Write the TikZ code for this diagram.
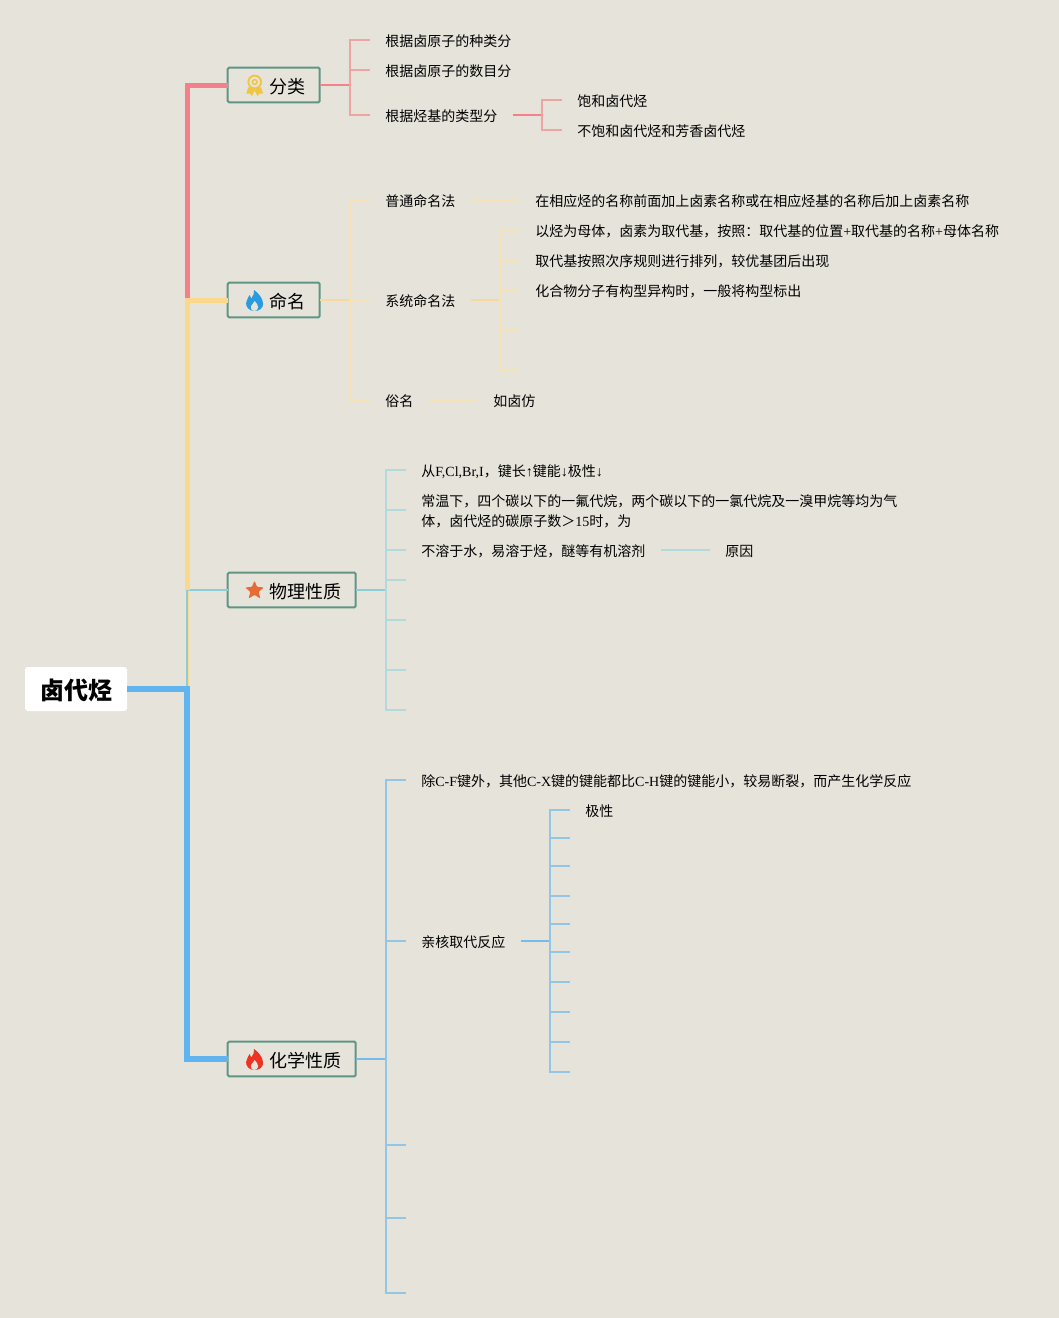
\documentclass[tikz,border=0pt]{standalone}
\usepackage{fontspec}
\setmainfont{Noto Sans CJK SC}
\newfontfamily\latn{Liberation Serif}
\newcommand{\lat}[1]{{\latn #1}}
\usetikzlibrary{shapes.geometric}
\definecolor{bgc}{HTML}{E6E3DB}
\definecolor{boxc}{HTML}{5F9585}
\definecolor{redc}{HTML}{F4808A}
\definecolor{redl}{HTML}{EFA3A3}
\definecolor{yelc}{HTML}{FBD88A}
\definecolor{yell}{HTML}{F6E2B6}
\definecolor{cyac}{HTML}{8CCDD8}
\definecolor{cyal}{HTML}{B2D9DD}
\definecolor{bluc}{HTML}{60B5F1}
\definecolor{blul}{HTML}{93C5E4}
\definecolor{medalc}{HTML}{F2C443}
\definecolor{flameb}{HTML}{2B9BE0}
\definecolor{flamer}{HTML}{EE3322}
\definecolor{starc}{HTML}{E66B35}
\tikzset{
  rootbox/.style={draw=none,fill=white,rounded corners=2pt,minimum width=76.5pt,minimum height=33pt,inner sep=0pt,text height=17pt,text depth=0.8pt,font=\fontsize{18}{18}\selectfont\bfseries},
  topicbox/.style={draw=boxc,line width=1.5pt,rounded corners=1pt,fill=bgc,minimum height=26pt,inner sep=0pt,outer sep=0pt,anchor=west},
  topictext/.style={anchor=west,inner sep=0pt,font=\fontsize{13.5}{13.5}\selectfont},
  leaf/.style={anchor=west,inner sep=0pt,text height=10.4pt,text depth=1.1pt,font=\fontsize{10.5}{15}\selectfont},
  gap/.style={shorten >=11.25pt},
  thinline/.style={line width=1pt},
  iconflame/.pic={
    \fill[pic actions] (0,10.5) .. controls (-6,10.5) and (-8.6,6) .. (-8.4,2.5)
      .. controls (-8.2,-1) and (-5.8,-2.5) .. (-5,-5.5)
      .. controls (-3.8,-4.5) and (-3.4,-3.2) .. (-3.2,-2)
      .. controls (-1,-4.5) and (0,-8) .. (-0.5,-10.5)
      .. controls (4,-7.5) and (8.6,-2) .. (8.6,3.5)
      .. controls (8.6,7.5) and (5,10.5) .. (0,10.5) -- cycle;
    \fill[bgc] (0,10.5) .. controls (-3.2,10) and (-4.2,7.5) .. (-3.4,5.5)
      .. controls (-2.6,3.5) and (-0.5,2.5) .. (0.2,0.5)
      .. controls (2,2.5) and (4,5) .. (3.6,7)
      .. controls (3.3,9) and (2,10.2) .. (0,10.5) -- cycle;
  }
}
\begin{document}
\begin{tikzpicture}[x=0.75pt,y=-0.75pt]
\fill[bgc] (0,0) rectangle (1059,1318);
\useasboundingbox (0,0) rectangle (1059,1318);

% main nodes
\node[rootbox] (root) at (76,689) {\hspace{1pt}卤代烃};
\node[topicbox,minimum width=69pt] (fenlei) at (227.7,85) {};
\node[topicbox,minimum width=69pt] (mingming) at (227.7,300) {};
\node[topicbox,minimum width=96pt] (wuli) at (227.7,590) {};
\node[topicbox,minimum width=96pt] (huaxue) at (227.7,1059) {};
\node[topictext] (fenleit) at (269,86.7) {分类};
\node[topictext] (mingmingt) at (269,301.7) {命名};
\node[topictext] (wulit) at (269,591.7) {物理性质};
\node[topictext] (huaxuet) at (269,1060.7) {化学性质};

% icons
\draw[medalc,line width=1.4pt] (254.7,82) circle (6.4);
\draw[medalc,line width=1.1pt] (254.7,82) circle (2.4);
\fill[medalc] (248.5,87) -- (246.3,93.5) -- (249.8,93.5) -- (252,96) -- (254.7,90.5) -- (257.4,96) -- (259.6,93.5) -- (263.1,93.5) -- (260.9,87) -- (254.7,89.5) -- cycle;
\pic[fill=flameb] at (254.5,300.5) {iconflame};
\pic[fill=flamer] at (254.5,1059.5) {iconflame};
\node[star,star points=5,star point ratio=2.3,fill=starc,rounded corners=0.8pt,minimum size=15pt,inner sep=0pt] (wulistar) at (254.5,590.5) {};

% trunk
\coordinate (trunk) at (187,689);
\coordinate (trunkw) at (188.5,689);
\coordinate (yelbend) at (187,590);
\coordinate (yelthin) at (188.5,590);
\coordinate (redbend) at (187,299);
\draw[yelc,line width=1pt] (yelthin) -- (trunkw);
\draw[cyac,line width=1pt] (trunk) |- (wuli.west);
\draw[redc,line width=3.75pt] (redbend) |- (fenlei.west);
\draw[yelc,line width=3.75pt] (yelbend) |- (mingming.west);
\draw[bluc,line width=4.5pt] (root.east) -- (trunk) |- (huaxue.west);

% fenlei
\node[leaf] (fl1) at (385,40) {根据卤原子的种类分};
\node[leaf] (fl2) at (385,70) {根据卤原子的数目分};
\node[leaf] (fl3) at (385,115) {根据烃基的类型分};
\node[leaf] (fl31) at (577,100) {饱和卤代烃};
\node[leaf] (fl32) at (577,130) {不饱和卤代烃和芳香卤代烃};
\coordinate (flj) at (350,85);
\coordinate (fl3j) at (542,115);
\draw[redc,thinline] (fenlei.east) -- (flj);
\draw[redl,thinline,gap] (flj) |- (fl1.west);
\draw[redl,thinline,gap] (flj) |- (fl2.west);
\draw[redl,thinline,gap] (flj) |- (fl3.west);
\draw[redc,thinline,shorten <=11.25pt] (fl3.east) -- (fl3j);
\draw[redl,thinline,gap] (fl3j) |- (fl31.west);
\draw[redl,thinline,gap] (fl3j) |- (fl32.west);

% mingming
\node[leaf] (mm1) at (385,200) {普通命名法};
\node[leaf] (mm2) at (385,300) {系统命名法};
\node[leaf] (mm3) at (385,400) {俗名};
\node[leaf] (mm11) at (535,200) {在相应烃的名称前面加上卤素名称或在相应烃基的名称后加上卤素名称};
\node[leaf] (mm21) at (535,230) {以烃为母体，卤素为取代基，按照：取代基的位置\lat{+}取代基的名称\lat{+}母体名称};
\node[leaf] (mm22) at (535,260) {取代基按照次序规则进行排列，较优基团后出现};
\node[leaf] (mm23) at (535,290) {化合物分子有构型异构时，一般将构型标出};
\node[leaf] (mm31) at (493,400) {如卤仿};
\coordinate (mmj) at (350,300);
\coordinate (mm2j) at (500,300);
\coordinate (mm24) at (520,330);
\coordinate (mm25) at (520,370);
\draw[yelc!80!bgc,thinline] (mingming.east) -- (mmj);
\draw[yell,thinline,gap] (mmj) |- (mm1.west);
\draw[yell,thinline,gap] (mmj) |- (mm2.west);
\draw[yell,thinline,gap] (mmj) |- (mm3.west);
\draw[yell,thinline,shorten <=11.25pt,gap] (mm1.east) -- (mm11.west);
\draw[yell,thinline,shorten <=11.25pt,gap] (mm3.east) -- (mm31.west);
\draw[yelc!80!bgc,thinline,shorten <=11.25pt] (mm2.east) -- (mm2j);
\draw[yell,thinline,gap] (mm2j) |- (mm21.west);
\draw[yell,thinline,gap] (mm2j) |- (mm22.west);
\draw[yell,thinline,gap] (mm2j) |- (mm23.west);
\draw[yell,thinline] (mm2j) |- (mm24);
\draw[yell,thinline] (mm2j) |- (mm25);

% wuli
\node[leaf] (wl1) at (421,470) {从\lat{F,Cl,Br,I}，键长\lat{↑}键能\lat{↓}极性\lat{↓}};
\node[anchor=west,inner sep=0pt,align=left,font=\fontsize{10.5}{15}\selectfont] (wl2) at (421,511) {常温下，四个碳以下的一氟代烷，两个碳以下的一氯代烷及一溴甲烷等均为气\\体，卤代烃的碳原子数＞\lat{15}时，为};
\node[leaf] (wl3) at (421,550) {不溶于水，易溶于烃，醚等有机溶剂};
\node[leaf] (wl31) at (725,550) {原因};
\coordinate (wlj) at (386,590);
\coordinate (wl2s) at (406,510);
\draw[cyac,thinline] (wuli.east) -- (wlj);
\draw[cyal,thinline,gap] (wlj) |- (wl1.west);
\draw[cyal,thinline] (wlj) |- (wl2s);
\draw[cyal,thinline,gap] (wlj) |- (wl3.west);
\draw[cyal,thinline,shorten <=11.25pt,gap] (wl3.east) -- (wl31.west);
\foreach \yy [count=\ii] in {580,620,670,710} {
  \coordinate (wlx\ii) at (406,\yy);
  \draw[cyal,thinline] (wlj) |- (wlx\ii);
}

% huaxue
\node[leaf] (hx1) at (421,780) {除\lat{C-F}键外，其他\lat{C-X}键的键能都比\lat{C-H}键的键能小，较易断裂，而产生化学反应};
\node[leaf] (hx2) at (421,941) {亲核取代反应};
\node[leaf] (hx21) at (585,810) {极性};
\coordinate (hxj) at (386,1059);
\coordinate (hx2j) at (550,941);
\draw[bluc!85!bgc,thinline] (huaxue.east) -- (hxj);
\draw[blul,thinline,gap] (hxj) |- (hx1.west);
\draw[blul,thinline,gap] (hxj) |- (hx2.west);
\foreach \yy [count=\ii] in {1145,1218,1293} {
  \coordinate (hxx\ii) at (406,\yy);
  \draw[blul,thinline] (hxj) |- (hxx\ii);
}
\draw[bluc!85!bgc,thinline,shorten <=11.25pt] (hx2.east) -- (hx2j);
\draw[blul,thinline,gap] (hx2j) |- (hx21.west);
\foreach \yy [count=\ii] in {838,866,896,924,952,982,1012,1042,1072} {
  \coordinate (hy\ii) at (570,\yy);
  \draw[blul,thinline] (hx2j) |- (hy\ii);
}
\end{tikzpicture}
\end{document}
